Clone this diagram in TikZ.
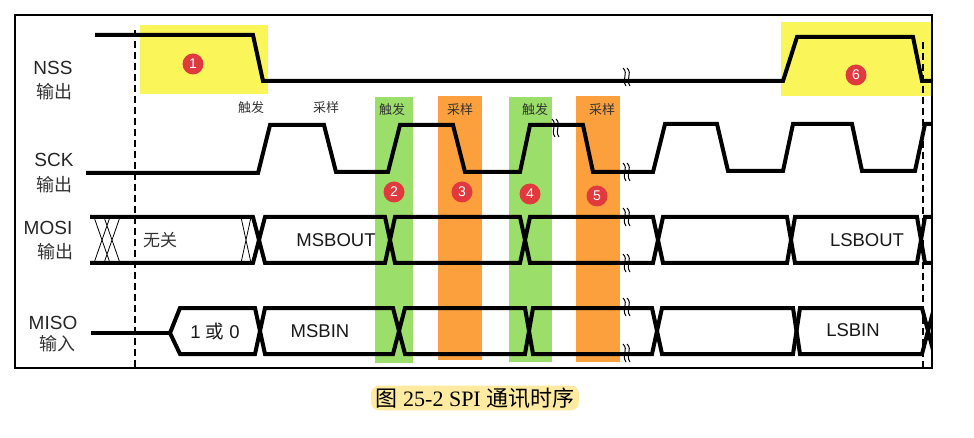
\documentclass[tikz,border=0pt]{standalone}
\usepackage{fontspec}
\setmainfont{Liberation Sans}
\newfontfamily\cjk{Noto Sans CJK SC}
\newfontfamily\capserif{Liberation Serif}
\definecolor{hlyellow}{RGB}{250,246,90}
\definecolor{bandgreen}{RGB}{155,222,105}
\definecolor{bandorange}{RGB}{251,160,60}
\definecolor{badgered}{RGB}{224,58,62}
\definecolor{capyellow}{RGB}{254,234,160}
\tikzset{
  brk/.pic={
    \draw[line width=1pt] (-4,-9) .. controls (2,-3) and (-6,2) .. (-1,9);
    \draw[line width=1pt] (0,-9) .. controls (6,-3) and (-2,2) .. (3,9);
  }
}
\begin{document}
\begin{tikzpicture}[x=1pt,y=-1pt,
  sig/.style={line width=4pt, line join=miter},
  thinx/.style={line width=0.8pt},
  frameline/.style={line width=2pt},
  dashv/.style={line width=2pt, dash pattern=on 7pt off 4pt},
  badge/.style={circle, fill=badgered, text=white, inner sep=0pt, minimum size=21pt, font=\fontsize{14}{14}\selectfont},
  lbl/.style={font=\fontsize{19}{20}\selectfont, text=black!85},
  cjklbl/.style={font=\cjk\fontsize{18}{20}\selectfont, text=black!80},
  evt/.style={font=\cjk\fontsize{13}{14}\selectfont, text=black!80},
  buslbl/.style={font=\fontsize{18.5}{20}\selectfont, text=black!90}
]
\useasboundingbox (0,0) rectangle (974,438);
\fill[white] (0,0) rectangle (974,438);

% highlight regions
\fill[hlyellow] (140,25) rectangle (268,94);
\fill[hlyellow] (781,22) rectangle (932,96);
\fill[bandgreen] (375,97) rectangle (413,363);
\fill[bandorange] (438,96) rectangle (482,360);
\fill[bandgreen] (509,97) rectangle (552,362);
\fill[bandorange] (576,96) rectangle (620,362);

% left labels
\node[lbl] (nss) at (53,68) {NSS};
\node[cjklbl] (nssio) at (54,92) {输出};
\node[lbl] (sck) at (54,160) {SCK};
\node[cjklbl] (sckio) at (54,185) {输出};
\node[lbl] (mosi) at (48,228) {MOSI};
\node[cjklbl] (mosiio) at (55,252) {输出};
\node[lbl] (miso) at (53,323) {MISO};
\node[cjklbl] (misoio) at (57,344) {输入};

% event labels
\node[evt] (e1) at (251,108) {触发};
\node[evt] (e2) at (326,108) {采样};
\node[evt] (e3) at (392,110) {触发};
\node[evt] (e4) at (460,110) {采样};
\node[evt] (e5) at (535,110) {触发};
\node[evt] (e6) at (602,110) {采样};

\begin{scope}
\clip (15,15) rectangle (932,368);
% NSS
\draw[sig] (95,35) -- (253,35) -- (263,81) -- (783,81) -- (797,37) -- (913,37) -- (922,81) -- (940,81);
% SCK
\draw[sig] (86,173) -- (258,173) -- (270,125) -- (324,125) -- (336,172) -- (388,172) -- (400,125)
  -- (453,125) -- (465,172) -- (520,172) -- (530,125) -- (583,125) -- (593,172) -- (653,172)
  -- (665,124) -- (717,124) -- (728,171) -- (783,171) -- (793,124) -- (852,124) -- (862,171)
  -- (915,171) -- (925,124) -- (940,124);
% MOSI bus
\draw[sig] (90,217) -- (253,217) -- (265,263) -- (385,263) -- (395,217) -- (520,217) -- (530,263)
  -- (653,263) -- (663,217) -- (787,217) -- (795,263) -- (917,263) -- (925,217) -- (940,217);
\draw[sig] (90,263) -- (253,263) -- (265,217) -- (385,217) -- (395,263) -- (520,263) -- (530,217)
  -- (653,217) -- (663,263) -- (787,263) -- (795,217) -- (917,217) -- (925,263) -- (940,263);
% MOSI don't-care hatching
\draw[thinx] (94,217) -- (110,263) (110,217) -- (94,263) (104,217) -- (120,263) (120,217) -- (104,263);
\draw[thinx] (241,217) -- (251,263) (251,217) -- (241,263);
% MISO
\draw[sig] (91,333) -- (170,333);
\draw[sig] (170,333) -- (180,308) -- (255,308) -- (265,354) -- (393,354) -- (405,308) -- (525,308)
  -- (533,354) -- (652,354) -- (662,308) -- (793,308) -- (800,354) -- (922,354) -- (934,308);
\draw[sig] (170,333) -- (180,354) -- (255,354) -- (265,308) -- (393,308) -- (405,354) -- (525,354)
  -- (533,308) -- (652,308) -- (662,354) -- (793,354) -- (800,308) -- (922,308) -- (934,354);
\end{scope}

% dashed markers
\draw[dashv] (135,30) -- (135,368);
\draw[dashv] (923,42) -- (923,368);

% frame
\draw[frameline] (15,15) rectangle (932,368);

% break marks
\path (627,77) pic {brk};
\path (627,172) pic {brk};
\path (627,217) pic {brk};
\path (627,263) pic {brk};
\path (627,307) pic {brk};
\path (627,353) pic {brk};
\path (556,128) pic {brk};

% bus labels
\node[font=\cjk\fontsize{17}{18}\selectfont, text=black!80] (wg) at (160,240) {无关};
\node[buslbl] (msbout) at (336,240) {MSBOUT};
\node[buslbl] (lsbout) at (867,240) {LSBOUT};
\node[buslbl] (oneorzero) at (215,331) {1 {\cjk 或} 0};
\node[buslbl] (msbin) at (320,331) {MSBIN};
\node[buslbl] (lsbin) at (853,330) {LSBIN};

% badges
\node[badge] (b1) at (193,64) {1};
\node[badge] (b2) at (394,192) {2};
\node[badge] (b3) at (462,192) {3};
\node[badge] (b4) at (530,194) {4};
\node[badge] (b5) at (597,196) {5};
\node[badge] (b6) at (856,75) {6};

% caption
\node[fill=capyellow, rounded corners=8pt, inner xsep=4pt, inner ysep=2pt,
      font=\fontsize{22}{24}\selectfont] (cap) at (475,398)
  {{\cjk 图} {\capserif 25-2 SPI} {\cjk 通讯时序}};
\end{tikzpicture}
\end{document}
